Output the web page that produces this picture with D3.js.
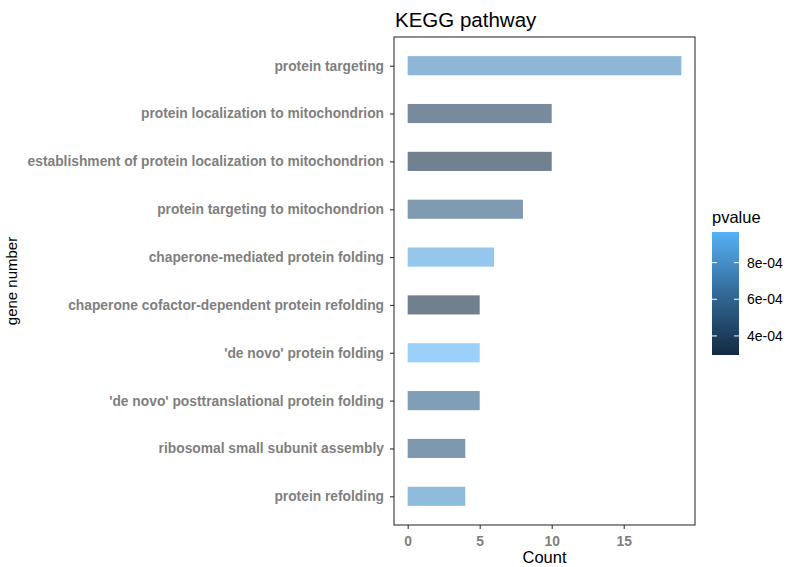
<!DOCTYPE html>
<html>
<head>
<meta charset="utf-8">
<script src="https://cdn.jsdelivr.net/npm/d3@7"></script>
<style>
  body { margin: 0; background: #fff; }
  svg { font-family: 'Liberation Sans', Arial, sans-serif; }
</style>
</head>
<body>
<svg id="chart" width="787" height="567"></svg>
<script>
// data
const terms = [
  'protein targeting',
  'protein localization to mitochondrion',
  'establishment of protein localization to mitochondrion',
  'protein targeting to mitochondrion',
  'chaperone-mediated protein folding',
  'chaperone cofactor-dependent protein refolding',
  "'de novo' protein folding",
  "'de novo' posttranslational protein folding",
  'ribosomal small subunit assembly',
  'protein refolding'
]
const counts = [19, 10, 10, 8, 6, 5, 5, 5, 4, 4]
const pvalues = [7.66e-4, 3.97e-4, 3.1e-4, 5.3e-4, 8.9e-4, 2.96e-4, 9.67e-4, 5.64e-4, 5.17e-4, 8.0e-4]
const xTicks = [0, 5, 10, 15]
const legendTicks = [4e-4, 6e-4, 8e-4]

const data = terms.map((t, i) => ({ term: t, count: counts[i], pvalue: pvalues[i] }))

const svg = d3.select('#chart')

const panel = { left: 394, right: 695, top: 37, bottom: 525 }

/// scales ////
const xMax = d3.max(counts)
const xScale = d3.scaleLinear()
  .domain([-0.05 * xMax, xMax * 1.05])
  .range([panel.left, panel.right])

const yScale = d3.scalePoint()
  .domain(terms)
  .range([panel.top, panel.bottom])
  .padding(0.6)

const step = yScale.step()
const barH = step * 0.4

const pExtent = d3.extent(pvalues)
const color = d3.scaleLinear()
  .domain(pExtent)
  .range(['#132B43', '#56B1F7'])
  .interpolate(d3.interpolateLab)

/// bars ////
svg.append('g')
  .selectAll('rect')
  .data(data)
  .join('rect')
  .attr('x', xScale(0))
  .attr('y', d => yScale(d.term) - barH / 2)
  .attr('width', d => xScale(d.count) - xScale(0))
  .attr('height', barH)
  .attr('fill', d => color(d.pvalue))
  .attr('fill-opacity', 0.6)

/// panel border ////
svg.append('rect')
  .attr('x', panel.left)
  .attr('y', panel.top)
  .attr('width', panel.right - panel.left)
  .attr('height', panel.bottom - panel.top)
  .attr('fill', 'none')
  .attr('stroke', '#333333')
  .attr('stroke-width', 1.1)

/// axes ////
const yAxis = svg.append('g')
  .attr('transform', `translate(${panel.left},0)`)
  .call(d3.axisLeft(yScale).tickSize(4).tickPadding(6))
yAxis.select('.domain').remove()
yAxis.selectAll('line').attr('stroke', '#333333').attr('stroke-width', 1.1)
yAxis.selectAll('text')
  .attr('fill', '#7f7f7f')
  .attr('font-size', 13.8)
  .attr('font-weight', 'bold')
  .attr('font-family', 'Liberation Sans, Arial, sans-serif')

const xAxis = svg.append('g')
  .attr('transform', `translate(0,${panel.bottom})`)
  .call(d3.axisBottom(xScale).tickValues(xTicks).tickSize(4).tickPadding(7))
xAxis.select('.domain').remove()
xAxis.selectAll('line').attr('stroke', '#333333').attr('stroke-width', 1.1)
xAxis.selectAll('text')
  .attr('fill', '#7f7f7f')
  .attr('font-size', 13.8)
  .attr('font-weight', 'bold')
  .attr('font-family', 'Liberation Sans, Arial, sans-serif')

/// titles ////
svg.append('text')
  .attr('x', 395)
  .attr('y', 26.5)
  .attr('font-size', 20.5)
  .attr('fill', '#000')
  .text('KEGG pathway')

svg.append('text')
  .attr('x', (panel.left + panel.right) / 2)
  .attr('y', 562.5)
  .attr('text-anchor', 'middle')
  .attr('font-size', 16.5)
  .attr('fill', '#000')
  .text('Count')

svg.append('text')
  .attr('transform', `translate(17,${(panel.top + panel.bottom) / 2}) rotate(-90)`)
  .attr('text-anchor', 'middle')
  .attr('font-size', 15)
  .attr('fill', '#000')
  .text('gene number')

/// legend ////
const leg = { x: 712, w: 27, top: 232, bottom: 355 }
const legScale = d3.scaleLinear().domain(pExtent).range([leg.bottom, leg.top])

const grad = svg.append('defs').append('linearGradient')
  .attr('id', 'pgrad')
  .attr('x1', 0).attr('x2', 0).attr('y1', 1).attr('y2', 0)
d3.range(0, 1.0001, 0.1).forEach(t => {
  grad.append('stop')
    .attr('offset', t)
    .attr('stop-color', color(pExtent[0] + t * (pExtent[1] - pExtent[0])))
})

svg.append('text')
  .attr('x', 712)
  .attr('y', 223)
  .attr('font-size', 16.5)
  .attr('fill', '#000')
  .text('pvalue')

svg.append('rect')
  .attr('x', leg.x)
  .attr('y', leg.top)
  .attr('width', leg.w)
  .attr('height', leg.bottom - leg.top)
  .attr('fill', 'url(#pgrad)')

const lt = svg.append('g')
lt.selectAll('.tl')
  .data(legendTicks)
  .join('line')
  .attr('x1', leg.x).attr('x2', leg.x + 5)
  .attr('y1', d => legScale(d)).attr('y2', d => legScale(d))
  .attr('stroke', '#fff')
lt.selectAll('.tr')
  .data(legendTicks)
  .join('line')
  .attr('x1', leg.x + leg.w - 5).attr('x2', leg.x + leg.w)
  .attr('y1', d => legScale(d)).attr('y2', d => legScale(d))
  .attr('stroke', '#fff')
lt.selectAll('text')
  .data(legendTicks)
  .join('text')
  .attr('x', leg.x + leg.w + 8)
  .attr('y', d => legScale(d))
  .attr('dy', '0.35em')
  .attr('font-size', 14)
  .attr('fill', '#000')
  .text(d => d3.format('.0e')(d).replace('e-4', 'e-04'))
</script>
</body>
</html>
